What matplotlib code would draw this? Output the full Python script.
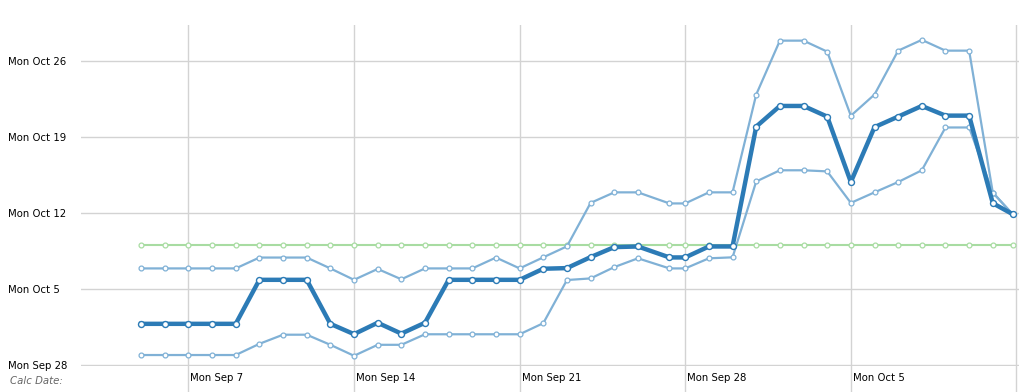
#!/usr/bin/env python3
"""Projected completion date by calc date, with upper/lower band and target."""

import pandas as pd
import matplotlib
matplotlib.use('Agg')
import matplotlib.pyplot as plt
import matplotlib.dates as mdates
from matplotlib.transforms import ScaledTranslation

# Calc dates (x): daily, with one odd timestamp on Sep 27 and a partial last day
CALC_DATES = (
    list(pd.date_range('2015-09-05', '2015-09-26', freq='D'))
    + [pd.Timestamp('2015-09-27 08:00')]
    + list(pd.date_range('2015-09-28', '2015-10-11', freq='D'))
    + [pd.Timestamp('2015-10-11 20:00')]
)

# Projected dates (y), expressed as days after Mon Sep 28 2015
Y_BASE = pd.Timestamp('2015-09-28')

PROJECTED = [3.8, 3.8, 3.8, 3.8, 3.8, 7.85, 7.85, 7.85, 3.8, 2.85,
             3.9, 2.9, 3.9, 7.85, 7.85, 7.85, 7.85, 8.87, 8.93, 9.94,
             10.86, 10.92, 9.91, 9.91, 10.92, 10.92, 21.95, 23.85, 23.85, 22.87,
             16.85, 21.9, 22.87, 23.85, 22.96, 22.96, 14.9, 13.9]

UPPER = [8.9, 8.9, 8.9, 8.9, 8.9, 9.9, 9.9, 9.9, 8.9, 7.85,
         8.85, 7.9, 8.9, 8.9, 8.9, 9.9, 8.9, 9.92, 10.93, 14.93,
         15.9, 15.9, 14.88, 14.88, 15.9, 15.9, 24.9, 29.86, 29.86, 28.85,
         22.95, 24.9, 28.94, 29.93, 28.94, 28.94, 15.88, 13.9]

LOWER = [0.93, 0.93, 0.93, 0.93, 0.93, 1.96, 2.8, 2.8, 1.87, 0.86,
         1.87, 1.87, 2.84, 2.84, 2.84, 2.84, 2.84, 3.86, 7.83, 7.98,
         9.02, 9.83, 8.9, 8.9, 9.83, 9.92, 16.9, 17.93, 17.93, 17.83,
         14.93, 15.9, 16.85, 17.93, 21.87, 21.87, 15.88, 13.9]

TARGET = [11.03] * len(CALC_DATES)

X_TICKS = ['2015-09-07', '2015-09-14', '2015-09-21', '2015-09-28', '2015-10-05', '2015-10-12']
Y_TICKS = ['2015-09-28', '2015-10-05', '2015-10-12', '2015-10-19', '2015-10-26']

DARK = '#2c7bb6'
LIGHT = '#80b1d6'
GREEN = '#a8dca2'
GRID = '#d3d3d3'


def to_dates(offsets):
    return Y_BASE + pd.to_timedelta(offsets, unit='D')


def fmt_day(v, pos=None):
    d = mdates.num2date(v)
    return f"{d:%a %b} {d.day}"


def main():
    fig = plt.figure(figsize=(10.2, 3.92), dpi=100)
    ax = fig.add_axes([81 / 1020, 26 / 392, 939 / 1020, 341 / 392])

    x = pd.DatetimeIndex(CALC_DATES)
    ax.plot(x, to_dates(TARGET), '-o', color=GREEN, lw=1.5, ms=3.5,
            mfc='white', mec=GREEN, mew=0.9, zorder=2)
    ax.plot(x, to_dates(LOWER), '-o', color=LIGHT, lw=1.6, ms=3.5,
            mfc='white', mec=LIGHT, mew=0.9, zorder=3)
    ax.plot(x, to_dates(UPPER), '-o', color=LIGHT, lw=1.6, ms=3.5,
            mfc='white', mec=LIGHT, mew=0.9, zorder=3)
    ax.plot(x, to_dates(PROJECTED), '-o', color=DARK, lw=3.2, ms=4.3,
            mfc='white', mec=DARK, mew=1.0, zorder=4)

    ax.set_xlim(pd.Timestamp('2015-09-07') - pd.Timedelta(days=4.54),
                pd.Timestamp('2015-10-12') + pd.Timedelta(days=0.15))
    ax.set_ylim(Y_BASE - pd.Timedelta(days=0.08), Y_BASE + pd.Timedelta(days=31.3))

    ax.set_xticks(pd.to_datetime(X_TICKS))
    ax.set_yticks(pd.to_datetime(Y_TICKS))
    ax.xaxis.set_major_formatter(plt.FuncFormatter(fmt_day))
    ax.yaxis.set_major_formatter(plt.FuncFormatter(fmt_day))

    for s in ax.spines.values():
        s.set_visible(False)
    ax.grid(True, color=GRID, lw=1.0)
    ax.set_axisbelow(True)

    ax.tick_params(axis='both', length=0, labelsize=7.3, colors='black')
    ax.tick_params(axis='x', pad=5)
    ax.tick_params(axis='y', pad=52.5)
    for lbl in ax.get_yticklabels():
        lbl.set_horizontalalignment('left')
    shift = ScaledTranslation(2 / 100, 0, fig.dpi_scale_trans)
    for lbl in ax.get_xticklabels():
        lbl.set_horizontalalignment('left')
        lbl.set_transform(lbl.get_transform() + shift)

    # vertical grid lines continue down through the label row
    for t in pd.to_datetime(X_TICKS):
        ax.plot([t, t], [0, -26 / 341], color=GRID, lw=1.0,
                transform=ax.get_xaxis_transform(), clip_on=False, zorder=0)

    fig.text(10 / 1020, 1 - 381 / 392, 'Calc Date:', fontsize=7.3,
             style='italic', color='#666666', va='center', ha='left')

    fig.savefig('out.png', dpi=100)
    plt.close(fig)


if __name__ == '__main__':
    main()
